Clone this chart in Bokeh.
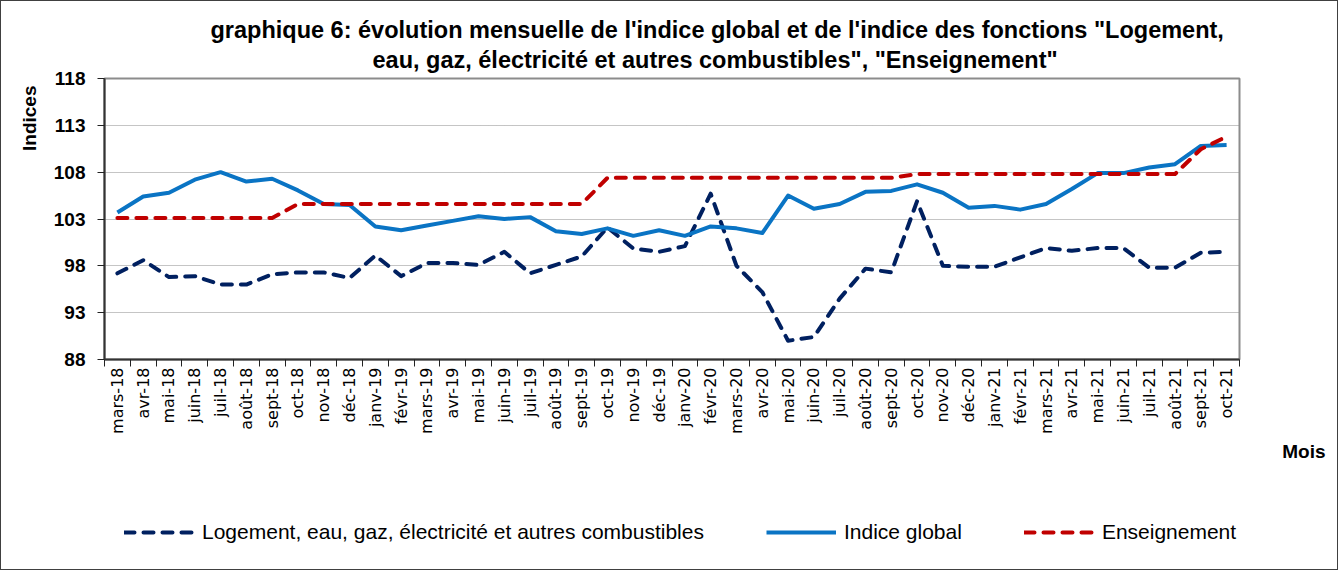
from bokeh.plotting import figure
from bokeh.models import Range1d, FixedTicker, Title, Legend, LegendItem
from bokeh.layouts import column
from bokeh.embed import file_html
from bokeh.resources import INLINE

months = ["mars-18", "avr-18", "mai-18", "juin-18", "juil-18", "août-18", "sept-18", "oct-18",
          "nov-18", "déc-18", "janv-19", "févr-19", "mars-19", "avr-19", "mai-19", "juin-19",
          "juil-19", "août-19", "sept-19", "oct-19", "nov-19", "déc-19", "janv-20", "févr-20",
          "mars-20", "avr-20", "mai-20", "juin-20", "juil-20", "août-20", "sept-20", "oct-20",
          "nov-20", "déc-20", "janv-21", "févr-21", "mars-21", "avr-21", "mai-21", "juin-21",
          "juil-21", "août-21", "sept-21", "oct-21"]

logement = [97.2, 98.6, 96.8, 96.9, 96.0, 96.0, 97.1, 97.3, 97.3, 96.7, 99.1, 96.9,
            98.3, 98.3, 98.1, 99.5, 97.2, 98.1, 99.0, 102.1, 99.85, 99.5, 100.1, 105.7,
            98.0, 95.2, 90.0, 90.4, 94.5, 97.7, 97.3, 104.9, 98.0, 97.9, 97.9, 98.9,
            99.9, 99.6, 99.9, 99.9, 97.8, 97.8, 99.4, 99.5]

indice_global = [103.7, 105.4, 105.8, 107.2, 108.0, 107.0, 107.3, 106.05, 104.6, 104.5, 102.2, 101.8,
                 102.3, 102.8, 103.3, 103.0, 103.2, 101.7, 101.4, 102.0, 101.2, 101.8, 101.2, 102.2,
                 102.0, 101.5, 105.5, 104.1, 104.6, 105.9, 106.0, 106.7, 105.8, 104.2, 104.4, 104.0,
                 104.6, 106.2, 107.9, 107.9, 108.5, 108.85, 110.8, 110.9]

enseignement = [103.1, 103.1, 103.1, 103.1, 103.1, 103.1, 103.1, 104.6, 104.6, 104.6, 104.6, 104.6,
                104.6, 104.6, 104.6, 104.6, 104.6, 104.6, 104.6, 107.4, 107.4, 107.4, 107.4, 107.4,
                107.4, 107.4, 107.4, 107.4, 107.4, 107.4, 107.4, 107.8, 107.8, 107.8, 107.8, 107.8,
                107.8, 107.8, 107.8, 107.8, 107.8, 107.8, 110.45, 111.8]

y_ticks = [88, 93, 98, 103, 108, 113, 118]

series_names = ["Logement, eau, gaz, électricité et autres combustibles", "Indice global", "Enseignement"]
series_colors = ["#002060", "#0A74C4", "#C00000"]
series_dash = ["10 9", "solid", "10 9"]

title_1 = 'graphique 6: évolution mensuelle de l\'indice global et de l\'indice des fonctions "Logement,'
title_2 = 'eau, gaz, électricité et autres combustibles", "Enseignement"'
y_title = "Indices"
x_title = "Mois"

FONT = "Liberation Sans"
W = 1336
H1 = 462
H2 = 568 - H1

xs = list(range(len(months)))
series = [logement, indice_global, enseignement]

# ---------------- main chart ----------------
p = figure(width=W, height=H1, output_backend="svg", toolbar_location=None,
           x_range=Range1d(-0.5, len(months) - 0.5), y_range=Range1d(88, 118),
           min_border_left=103, min_border_right=98, min_border_top=77, min_border_bottom=102)
p.background_fill_color = "white"
p.border_fill_color = "white"
p.outline_line_color = "#8c8c8c"
p.outline_line_width = 2

p.xaxis.ticker = FixedTicker(ticks=xs, minor_ticks=[k - 0.5 for k in range(len(months) + 1)])
p.xaxis.major_label_overrides = {i: m for i, m in enumerate(months)}
p.xaxis.major_label_orientation = 1.5707963
p.xaxis.major_tick_out = 0
p.xaxis.major_tick_in = 0
p.xaxis.minor_tick_out = 7
p.xaxis.minor_tick_in = 0
p.xaxis.minor_tick_line_color = "#222222"
p.xaxis.minor_tick_line_width = 1
p.xaxis.axis_line_color = "#333333"
p.xaxis.axis_line_width = 2
p.xaxis.major_label_text_font = "DejaVu Sans"
p.xaxis.major_label_text_font_size = "16px"
p.xaxis.major_label_text_color = "black"
p.xaxis.major_label_standoff = 1

p.yaxis.ticker = FixedTicker(ticks=y_ticks)
p.yaxis.major_tick_out = 7
p.yaxis.major_tick_in = 0
p.yaxis.minor_tick_out = 0
p.yaxis.minor_tick_in = 0
p.yaxis.major_tick_line_color = "#222222"
p.yaxis.axis_line_color = "#333333"
p.yaxis.axis_line_width = 2
p.yaxis.major_label_text_font = FONT
p.yaxis.major_label_text_font_style = "bold"
p.yaxis.major_label_text_font_size = "19px"
p.yaxis.major_label_text_color = "black"
p.yaxis.major_label_standoff = 12

p.xgrid.grid_line_color = None
p.ygrid.grid_line_color = "#8a8a8a"
p.ygrid.grid_line_dash = "1 1"
p.ygrid.grid_line_width = 1

for vals, col, dash in zip(series, series_colors, series_dash):
    p.line(xs, vals, line_color=col, line_width=4, line_dash=dash,
           line_cap="round" if dash != "solid" else "butt", line_join="round")

def ttl(text, size, **kw):
    return Title(text=text, text_font=FONT, text_font_size=size, text_font_style="bold",
                 text_color="black", **kw)

p.add_layout(ttl(title_2, "23.5px", align="left", offset=268, standoff=8, vertical_align="top"), "above")
p.add_layout(ttl(title_1, "23.5px", align="left", offset=106, standoff=0), "above")
p.add_layout(ttl(y_title, "19px", align="right", offset=7, standoff=22), "left")
p.add_layout(ttl(x_title, "19px", align="right", offset=-86, standoff=4), "below")

# ---------------- bottom strip: legend ----------------
q = figure(width=W, height=H2, output_backend="svg", toolbar_location=None,
           x_range=Range1d(-0.5, len(months) - 0.5), y_range=Range1d(0, 1),
           x_axis_type=None, y_axis_type=None,
           min_border_left=103, min_border_right=98, min_border_top=0, min_border_bottom=0)
q.grid.visible = False
q.outline_line_color = None
q.background_fill_color = "white"
q.border_fill_color = "white"

items = []
for name, vals, col, dash in zip(series_names, series, series_colors, series_dash):
    # same series, drawn outside this strip's visible y-range: only its legend sample shows
    r = q.line(xs, vals, line_color=col, line_width=4, line_dash=dash,
               line_cap="round" if dash != "solid" else "butt")
    items.append(LegendItem(label=name, renderers=[r]))

legend = Legend(items=items, orientation="horizontal", location=(20, 25),
                glyph_width=70, glyph_height=24, label_standoff=8, spacing=62,
                padding=0, margin=0, border_line_color=None, background_fill_alpha=0,
                label_text_font=FONT, label_text_font_size="21px", label_text_color="black",
                label_height=24)
q.add_layout(legend, "center")

layout = column(p, q, spacing=0)
layout.styles = {"border": "1px solid #404040"}

open("out.html", "w").write(file_html(layout, INLINE))
